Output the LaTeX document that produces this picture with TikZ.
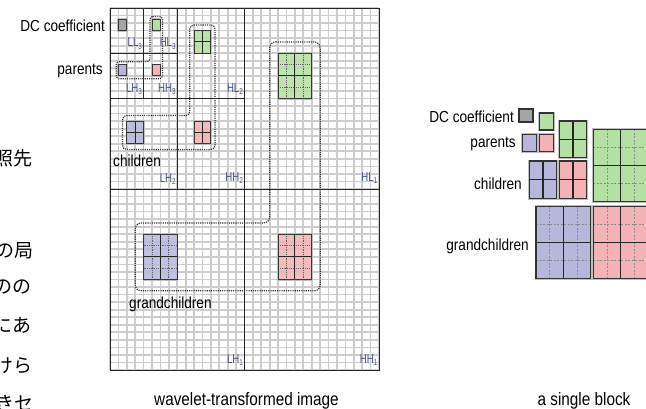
\documentclass[tikz,border=0pt]{standalone}
\usepackage{fontspec}
\setmainfont{Liberation Sans}
\newfontfamily\labfont{Liberation Sans}[FakeStretch=0.85]
\newfontfamily\bandfont{Liberation Sans}[FakeStretch=0.74]
\newfontfamily\jpfont{Noto Sans CJK JP}
\definecolor{cgreen}{RGB}{181,224,163}
\definecolor{cpurple}{RGB}{183,183,220}
\definecolor{cpink}{RGB}{244,178,182}
\definecolor{cgray}{RGB}{165,165,165}
\definecolor{gridgray}{RGB}{205,205,205}
\definecolor{bandcol}{RGB}{72,84,132}
\newcommand\bandlab[2]{{\bandfont\fontsize{13}{14}\selectfont #1\raisebox{-2.4pt}{\fontsize{8.5}{9}\selectfont #2}}}
% #1 border style, #2 mid style, #3 quarter style (may be empty), #4..#7 corners, #8 fill options
\newcommand\drawquad[8]{%
  \draw[#1 halo] (#4,#5) rectangle (#6,#7);
  \fill[#8] (#4,#5) rectangle (#6,#7);
  \ifx&#3&\else
  \draw[#3] ({#4+(#6-#4)/4},#5) -- ({#4+(#6-#4)/4},#7)
            ({#4+3*(#6-#4)/4},#5) -- ({#4+3*(#6-#4)/4},#7)
            (#4,{#5+(#7-#5)/4}) -- (#6,{#5+(#7-#5)/4})
            (#4,{#5+3*(#7-#5)/4}) -- (#6,{#5+3*(#7-#5)/4});
  \fi
  \draw[#2] ({(#4+#6)/2},#5) -- ({(#4+#6)/2},#7) (#4,{(#5+#7)/2}) -- (#6,{(#5+#7)/2});
  \draw[#1] (#4,#5) rectangle (#6,#7);
}
\newcommand\drawsingle[6]{%
  \draw[#1 halo] (#2,#3) rectangle (#4,#5);
  \fill[#6] (#2,#3) rectangle (#4,#5);
  \draw[#1] (#2,#3) rectangle (#4,#5);
}
\begin{document}
\begin{tikzpicture}[x=1pt,y=-1pt,
  gridline/.style={draw=gridgray, line width=1.7pt},
  divider/.style={draw=black!85, line width=0.9pt},
  mblk/.style={draw=black!78, line width=1pt},
  mblk halo/.style={draw=gray!50, line width=2pt},
  mmid/.style={draw=black!85, line width=1pt},
  mquart/.style={draw=black!60, line width=0.8pt, densely dotted},
  rblk/.style={draw=black!80, line width=1.1pt},
  rblk halo/.style={draw=gray!50, line width=2.8pt},
  rmid/.style={draw=black!85, line width=1.1pt},
  rquart/.style={draw=gray!90, line width=0.8pt, dash pattern=on 2pt off 1.5pt},
  outline/.style={draw=black!80, line width=1.25pt, dash pattern=on 1.1pt off 1.1pt},
  band/.style={text=bandcol, inner sep=0pt},
  lab/.style={inner sep=0pt, font=\labfont\fontsize{16}{18}\selectfont},
  captext/.style={inner sep=0pt, font=\labfont\fontsize{18}{20}\selectfont},
  jtext/.style={inner sep=0pt, font=\jpfont\fontsize{19}{21}\selectfont},
]
\useasboundingbox (0,0) rectangle (646,409);
\clip (0,0) rectangle (646,409);
\fill[white] (0,0) rectangle (646,409);

% cropped Japanese text at the left edge
\node[jtext, anchor=east] (j1) at (33,158) {照先};
\node[jtext, anchor=east] (j2) at (34,251) {の局};
\node[jtext, anchor=east] (j3) at (32,287) {のの};
\node[jtext, anchor=east] (j4) at (32,325) {にあ};
\node[jtext, anchor=east] (j5) at (33,366) {けら};
\node[jtext, anchor=east] (j6) at (34,403) {きセ};

% ---------------- wavelet-transformed image ----------------
\begin{scope}[xshift=110pt, yshift=-8pt, x=8.406pt, y=-7.542pt]
  \foreach \i in {0,...,32} \draw[gridline] (\i,0) -- (\i,48);
  \foreach \j in {0,...,48} \draw[gridline] (0,\j) -- (32,\j);
  \draw[divider] (0,0) rectangle (32,48);
  \draw[divider] (16,0) -- (16,48) (0,24) -- (32,24)
                 (8,0) -- (8,24) (0,12) -- (16,12)
                 (4,0) -- (4,12) (0,6) -- (8,6);
  % dotted groupings
  \draw[outline, rounded corners=3pt] (4.75,1.125) -- (6.25,1.125) -- (6.25,9.375) -- (0.75,9.375) -- (0.75,7.125) -- (4.75,7.125) -- cycle;
  \draw[outline, rounded corners=4pt] (9.5,2.25) -- (12.5,2.25) -- (12.5,18.75) -- (1.5,18.75) -- (1.5,14.25) -- (9.5,14.25) -- cycle;
  \draw[outline, rounded corners=6pt] (19,4.5) -- (25,4.5) -- (25,37.5) -- (3,37.5) -- (3,28.5) -- (19,28.5) -- cycle;
  % level 3
  \drawsingle{mblk}{1}{1.5}{2}{3}{cgray}
  \drawsingle{mblk}{5}{1.5}{6}{3}{cgreen}
  \drawsingle{mblk}{1}{7.5}{2}{9}{cpurple}
  \drawsingle{mblk}{5}{7.5}{6}{9}{cpink}
  % level 2
  \drawquad{mblk}{mmid}{}{10}{3}{12}{6}{cgreen, fill opacity=0.9}
  \drawquad{mblk}{mmid}{}{2}{15}{4}{18}{cpurple, fill opacity=0.9}
  \drawquad{mblk}{mmid}{}{10}{15}{12}{18}{cpink, fill opacity=0.9}
  % level 1
  \drawquad{mblk}{mmid}{mquart}{20}{6}{24}{12}{cgreen, fill opacity=0.85}
  \drawquad{mblk}{mmid}{mquart}{4}{30}{8}{36}{cpurple, fill opacity=0.85}
  \drawquad{mblk}{mmid}{mquart}{20}{30}{24}{36}{cpink, fill opacity=0.85}
  % subband labels
  \node[band, anchor=base east] (bLL3) at ([xshift=-1.5pt,yshift=6.5pt]4,6) {\bandlab{LL}{3}};
  \node[band, anchor=base east] (bHL3) at ([xshift=-1.5pt,yshift=6.5pt]8,6) {\bandlab{HL}{3}};
  \node[band, anchor=base east] (bLH3) at ([xshift=-1.5pt,yshift=6.5pt]4,12) {\bandlab{LH}{3}};
  \node[band, anchor=base east] (bHH3) at ([xshift=-1.5pt,yshift=6.5pt]8,12) {\bandlab{HH}{3}};
  \node[band, anchor=base east] (bHL2) at ([xshift=-1.5pt,yshift=6.5pt]16,12) {\bandlab{HL}{2}};
  \node[band, anchor=base east] (bLH2) at ([xshift=-1.5pt,yshift=6.5pt]8,24) {\bandlab{LH}{2}};
  \node[band, anchor=base east] (bHH2) at ([xshift=-1.5pt,yshift=8pt]16,24) {\bandlab{HH}{2}};
  \node[band, anchor=base east] (bHL1) at ([xshift=-1.5pt,yshift=8pt]32,24) {\bandlab{HL}{1}};
  \node[band, anchor=base east] (bLH1) at ([xshift=-1.5pt,yshift=6.5pt]16,48) {\bandlab{LH}{1}};
  \node[band, anchor=base east] (bHH1) at ([xshift=-1.5pt,yshift=6.5pt]32,48) {\bandlab{HH}{1}};
\end{scope}

\node[lab, anchor=base east] (dc1) at (105,31.7) {DC coefficient};
\node[lab, anchor=base east] (par1) at (103,74.5) {parents};
\node[lab, anchor=base west] (chi1) at (113,166.5) {children};
\node[lab, anchor=base west] (gch1) at (129,308) {grandchildren};
\node[captext, anchor=base] (cap1) at (246.5,405) {wavelet-transformed image};

% ---------------- a single block ----------------
\drawsingle{rblk}{519}{109}{533}{122}{cgray}
\drawsingle{rblk}{539.3}{113}{553.3}{130}{cgreen}
\drawsingle{rblk}{522.7}{134.5}{536.7}{151.7}{cpurple}
\drawsingle{rblk}{539.3}{134.5}{553.3}{151.7}{cpink}
\drawquad{rblk}{rmid}{}{559.3}{121}{586.7}{157.3}{cgreen}
\drawquad{rblk}{rmid}{}{529.3}{161}{556.7}{198.3}{cpurple}
\drawquad{rblk}{rmid}{}{559.3}{161}{586.7}{198.3}{cpink}
\drawquad{rblk}{rmid}{rquart}{593.3}{129.3}{648.3}{201.7}{cgreen}
\drawquad{rblk}{rmid}{rquart}{536}{206.7}{590.7}{278.3}{cpurple}
\drawquad{rblk}{rmid}{rquart}{593.3}{206.7}{648.3}{278.3}{cpink}

\node[lab, anchor=base east] (dc2) at (514,122.5) {DC coefficient};
\node[lab, anchor=base east] (par2) at (516,148) {parents};
\node[lab, anchor=base east] (chi2) at (522,190) {children};
\node[lab, anchor=base east] (gch2) at (529,251) {grandchildren};
\node[captext, anchor=base] (cap2) at (584,405) {a single block};
\end{tikzpicture}
\end{document}
